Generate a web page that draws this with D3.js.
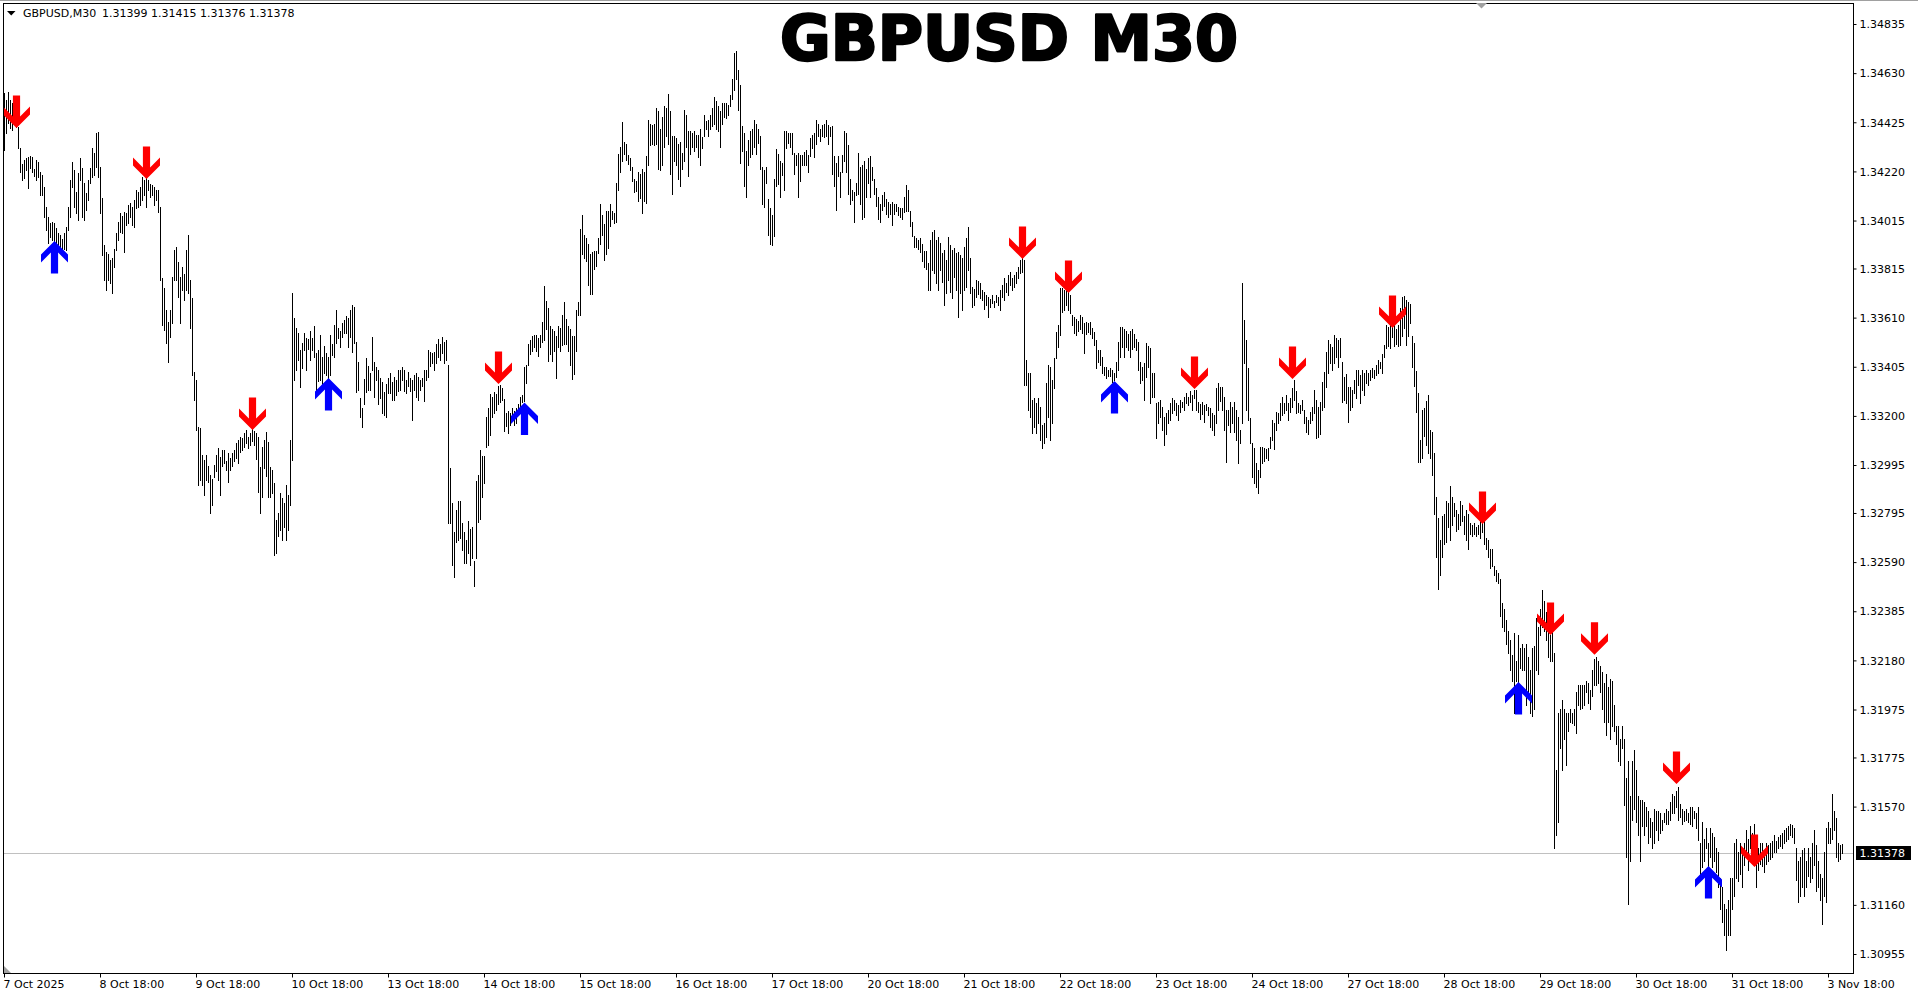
<!DOCTYPE html>
<html>
<head>
<meta charset="utf-8">
<script src="https://cdn.jsdelivr.net/npm/d3@7"></script>
<style>
  body { margin: 0; background: #fff; }
  svg { display: block; }
</style>
</head>
<body>
<div id="chart"></div>
<script>
// chart size
var svgWidth = 1918;
var svgHeight = 996;

// plot frame (MT4 style, price scale on the right)
var frame = { left: 3, top: 3, right: 1853, bottom: 973 };

// header values
var symbol = "GBPUSD,M30";
var lastQuote = [1.31399, 1.31415, 1.31376, 1.31378]; // open high low close of the last bar
var title = "GBPUSD M30";

// price scale labels
var priceTicks = [1.34835, 1.34630, 1.34425, 1.34220, 1.34015, 1.33815, 1.33610, 1.33405, 1.33200,
  1.32995, 1.32795, 1.32590, 1.32385, 1.32180, 1.31975, 1.31775, 1.31570, 1.31160, 1.30955];

// time scale labels, one every 48 bars (one day of M30 bars)
var barsPerDay = 48;
var timeLabels = ["7 Oct 2025", "8 Oct 18:00", "9 Oct 18:00", "10 Oct 18:00", "13 Oct 18:00",
  "14 Oct 18:00", "15 Oct 18:00", "16 Oct 18:00", "17 Oct 18:00", "20 Oct 18:00", "21 Oct 18:00",
  "22 Oct 18:00", "23 Oct 18:00", "24 Oct 18:00", "27 Oct 18:00", "28 Oct 18:00", "29 Oct 18:00",
  "30 Oct 18:00", "31 Oct 18:00", "3 Nov 18:00"];

// M30 bars: [high, low]
var bars = [
[1.34547,1.34309],[1.34518,1.34380],[1.34551,1.34422],[1.34518,1.34401],[1.34505,1.34393],[1.34526,1.34434],[1.34489,1.34405],[1.34405,1.34317],[1.34317,1.34217],[1.34250,1.34184],
[1.34268,1.34193],[1.34276,1.34226],[1.34280,1.34151],[1.34284,1.34234],[1.34280,1.34218],[1.34230,1.34200],[1.34268,1.34184],[1.34259,1.34197],[1.34218,1.34122],[1.34205,1.34122],
[1.34155,1.34030],[1.34072,1.33976],[1.34030,1.33922],[1.34005,1.33946],[1.34009,1.33934],[1.34005,1.33913],[1.33984,1.33905],[1.33963,1.33892],[1.33955,1.33897],[1.33938,1.33888],
[1.33963,1.33897],[1.33988,1.33892],[1.34072,1.33976],[1.34184,1.34030],[1.34259,1.34155],[1.34226,1.34072],[1.34134,1.34047],[1.34213,1.34017],[1.34276,1.34184],[1.34234,1.34030],
[1.34172,1.34017],[1.34130,1.34059],[1.34184,1.34101],[1.34234,1.34172],[1.34317,1.34197],[1.34297,1.34205],[1.34380,1.34238],[1.34384,1.34197],[1.34238,1.34047],[1.34109,1.33871],
[1.33913,1.33767],[1.33884,1.33725],[1.33876,1.33767],[1.33850,1.33755],[1.33859,1.33713],[1.33897,1.33821],[1.33963,1.33892],[1.34009,1.33934],[1.34047,1.33967],[1.34035,1.33963],
[1.34051,1.33884],[1.34047,1.33995],[1.34080,1.34005],[1.34089,1.34030],[1.34072,1.33997],[1.34101,1.33988],[1.34142,1.34068],[1.34134,1.34072],[1.34155,1.34080],[1.34197,1.34101],
[1.34184,1.34122],[1.34193,1.34072],[1.34184,1.34142],[1.34168,1.34114],[1.34163,1.34122],[1.34155,1.34080],[1.34142,1.34101],[1.34142,1.34051],[1.34072,1.33767],[1.33776,1.33579],
[1.33734,1.33558],[1.33642,1.33504],[1.33592,1.33424],[1.33642,1.33529],[1.33780,1.33588],[1.33892,1.33767],[1.33905,1.33767],[1.33842,1.33696],[1.33780,1.33588],[1.33822,1.33725],
[1.33792,1.33684],[1.33892,1.33725],[1.33955,1.33713],[1.33767,1.33567],[1.33692,1.33371],[1.33383,1.33266],[1.33350,1.33141],[1.33154,1.32912],[1.33150,1.32933],[1.33037,1.32912],
[1.33016,1.32870],[1.33037,1.32933],[1.32991,1.32924],[1.32953,1.32795],[1.32937,1.32828],[1.32995,1.32945],[1.33037,1.32970],[1.33066,1.32933],[1.33028,1.32870],[1.33058,1.32991],
[1.33058,1.33003],[1.33012,1.32974],[1.33045,1.32924],[1.33024,1.32974],[1.33045,1.32991],[1.33058,1.33012],[1.33087,1.33024],[1.33099,1.33003],[1.33112,1.33049],[1.33108,1.33058],
[1.33129,1.33070],[1.33141,1.33087],[1.33112,1.33066],[1.33129,1.33078],[1.33150,1.33095],[1.33137,1.33078],[1.33129,1.33020],[1.33112,1.32882],[1.32987,1.32795],[1.33070,1.32862],
[1.33099,1.32982],[1.33133,1.32949],[1.33091,1.32862],[1.32987,1.32862],[1.32974,1.32878],[1.32920,1.32620],[1.32766,1.32628],[1.32795,1.32697],[1.32878,1.32724],[1.32857,1.32682],
[1.32835,1.32738],[1.32912,1.32682],[1.32870,1.32724],[1.33099,1.32828],[1.33713,1.33016],[1.33609,1.33350],[1.33567,1.33391],[1.33546,1.33433],[1.33475,1.33320],[1.33504,1.33400],
[1.33546,1.33475],[1.33525,1.33391],[1.33521,1.33479],[1.33554,1.33433],[1.33525,1.33475],[1.33575,1.33446],[1.33463,1.33308],[1.33475,1.33345],[1.33538,1.33350],[1.33446,1.33308],
[1.33492,1.33379],[1.33463,1.33370],[1.33446,1.33358],[1.33538,1.33370],[1.33500,1.33454],[1.33579,1.33446],[1.33642,1.33504],[1.33567,1.33525],[1.33554,1.33488],[1.33588,1.33529],
[1.33600,1.33546],[1.33617,1.33546],[1.33609,1.33488],[1.33642,1.33529],[1.33663,1.33467],[1.33655,1.33504],[1.33508,1.33299],[1.33425,1.33308],[1.33275,1.33195],[1.33233,1.33154],
[1.33354,1.33250],[1.33442,1.33300],[1.33408,1.33308],[1.33379,1.33308],[1.33529,1.33391],[1.33425,1.33279],[1.33404,1.33350],[1.33391,1.33250],[1.33358,1.33275],[1.33341,1.33212],
[1.33299,1.33204],[1.33333,1.33195],[1.33358,1.33295],[1.33379,1.33295],[1.33341,1.33266],[1.33362,1.33266],[1.33350,1.33287],[1.33391,1.33304],[1.33391,1.33308],[1.33404,1.33350],
[1.33391,1.33304],[1.33350,1.33295],[1.33383,1.33325],[1.33358,1.33304],[1.33350,1.33183],[1.33370,1.33308],[1.33379,1.33279],[1.33362,1.33266],[1.33350,1.33308],[1.33358,1.33325],
[1.33391,1.33262],[1.33391,1.33350],[1.33475,1.33362],[1.33467,1.33408],[1.33463,1.33421],[1.33467,1.33391],[1.33500,1.33421],[1.33521,1.33446],[1.33500,1.33433],[1.33529,1.33463],
[1.33508,1.33421],[1.33517,1.33433],[1.33412,1.32753],[1.32982,1.32753],[1.32836,1.32578],[1.32716,1.32528],[1.32807,1.32675],[1.32845,1.32682],[1.32845,1.32690],[1.32753,1.32640],
[1.32716,1.32586],[1.32682,1.32586],[1.32761,1.32628],[1.32728,1.32578],[1.32737,1.32607],[1.32595,1.32491],[1.32928,1.32607],[1.32954,1.32758],[1.33058,1.32770],[1.33033,1.32862],
[1.33033,1.32920],[1.33195,1.33070],[1.33233,1.33078],[1.33291,1.33120],[1.33279,1.33195],[1.33300,1.33212],[1.33291,1.33225],[1.33325,1.33250],[1.33329,1.33258],[1.33316,1.33266],
[1.33270,1.33137],[1.33212,1.33158],[1.33221,1.33129],[1.33212,1.33162],[1.33233,1.33187],[1.33221,1.33162],[1.33233,1.33170],[1.33250,1.33204],[1.33279,1.33221],[1.33287,1.33258],
[1.33404,1.33262],[1.33412,1.33337],[1.33500,1.33412],[1.33517,1.33458],[1.33534,1.33471],[1.33538,1.33488],[1.33538,1.33471],[1.33525,1.33450],[1.33538,1.33488],[1.33592,1.33508],
[1.33742,1.33517],[1.33680,1.33563],[1.33650,1.33429],[1.33575,1.33458],[1.33563,1.33429],[1.33554,1.33471],[1.33534,1.33358],[1.33575,1.33488],[1.33567,1.33471],[1.33621,1.33496],
[1.33676,1.33500],[1.33605,1.33500],[1.33575,1.33471],[1.33563,1.33412],[1.33534,1.33354],[1.33534,1.33375],[1.33642,1.33471],[1.33676,1.33621],[1.33980,1.33621],[1.34038,1.33876],
[1.33955,1.33859],[1.33942,1.33846],[1.33917,1.33746],[1.33876,1.33709],[1.33884,1.33709],[1.33888,1.33813],[1.33888,1.33825],[1.33942,1.33880],[1.34084,1.33917],[1.34038,1.33955],
[1.34001,1.33850],[1.34055,1.33876],[1.34055,1.33900],[1.34084,1.33992],[1.34055,1.34020],[1.34047,1.34005],[1.34172,1.34009],[1.34292,1.34142],[1.34322,1.34217],[1.34426,1.34263],
[1.34343,1.34293],[1.34334,1.34268],[1.34288,1.34250],[1.34276,1.34226],[1.34238,1.34180],[1.34188,1.34134],[1.34180,1.34140],[1.34218,1.34097],[1.34209,1.34109],[1.34230,1.34047],
[1.34218,1.34097],[1.34284,1.34088],[1.34434,1.34247],[1.34418,1.34330],[1.34414,1.34334],[1.34418,1.34330],[1.34484,1.34334],[1.34472,1.34230],[1.34397,1.34226],[1.34447,1.34247],
[1.34493,1.34322],[1.34484,1.34368],[1.34543,1.34334],[1.34472,1.34209],[1.34368,1.34126],[1.34368,1.34263],[1.34359,1.34247],[1.34334,1.34188],[1.34343,1.34159],[1.34297,1.34230],
[1.34476,1.34263],[1.34455,1.34322],[1.34389,1.34201],[1.34389,1.34293],[1.34380,1.34322],[1.34389,1.34305],[1.34372,1.34322],[1.34372,1.34280],[1.34397,1.34247],[1.34363,1.34318],
[1.34455,1.34368],[1.34430,1.34397],[1.34434,1.34368],[1.34455,1.34397],[1.34484,1.34409],[1.34530,1.34418],[1.34514,1.34397],[1.34493,1.34389],[1.34472,1.34322],[1.34505,1.34418],
[1.34505,1.34447],[1.34505,1.34443],[1.34497,1.34455],[1.34539,1.34493],[1.34606,1.34522],[1.34714,1.34560],[1.34722,1.34606],[1.34643,1.34476],[1.34581,1.34255],[1.34409,1.34305],
[1.34380,1.34159],[1.34305,1.34113],[1.34351,1.34247],[1.34389,1.34280],[1.34397,1.34293],[1.34434,1.34322],[1.34418,1.34293],[1.34397,1.34338],[1.34368,1.34230],[1.34238,1.34084],
[1.34226,1.34072],[1.34238,1.34172],[1.34105,1.33955],[1.34068,1.33917],[1.34038,1.33913],[1.34188,1.33950],[1.34313,1.34159],[1.34292,1.34168],[1.34263,1.34113],[1.34255,1.34205],
[1.34389,1.34142],[1.34389,1.34318],[1.34380,1.34338],[1.34380,1.34322],[1.34380,1.34293],[1.34297,1.34209],[1.34288,1.34247],[1.34297,1.34113],[1.34288,1.34180],[1.34288,1.34247],
[1.34301,1.34247],[1.34309,1.34247],[1.34288,1.34218],[1.34359,1.34284],[1.34372,1.34318],[1.34380,1.34280],[1.34434,1.34334],[1.34418,1.34368],[1.34397,1.34347],[1.34414,1.34368],
[1.34418,1.34363],[1.34434,1.34368],[1.34414,1.34334],[1.34405,1.34368],[1.34409,1.34209],[1.34284,1.34159],[1.34255,1.34059],[1.34284,1.34201],[1.34218,1.34113],[1.34288,1.34218],
[1.34389,1.34263],[1.34380,1.34218],[1.34330,1.34126],[1.34188,1.34084],[1.34142,1.34101],[1.34134,1.34009],[1.34172,1.34122],[1.34297,1.34126],[1.34238,1.34084],[1.34247,1.34022],
[1.34263,1.34030],[1.34230,1.34113],[1.34276,1.34172],[1.34284,1.34113],[1.34238,1.34184],[1.34188,1.34126],[1.34151,1.34076],[1.34113,1.34022],[1.34084,1.34009],[1.34122,1.34059],
[1.34134,1.34076],[1.34105,1.34043],[1.34093,1.34030],[1.34084,1.34043],[1.34093,1.33997],[1.34084,1.34043],[1.34084,1.34055],[1.34072,1.34038],[1.34068,1.34030],[1.34068,1.34022],
[1.34113,1.34051],[1.34163,1.34055],[1.34142,1.34055],[1.34055,1.33992],[1.34009,1.33950],[1.33950,1.33905],[1.33942,1.33905],[1.33934,1.33897],[1.33942,1.33884],[1.33917,1.33846],
[1.33888,1.33821],[1.33888,1.33813],[1.33838,1.33725],[1.33934,1.33725],[1.33967,1.33809],[1.33976,1.33796],[1.33934,1.33755],[1.33946,1.33725],[1.33921,1.33809],[1.33880,1.33759],
[1.33892,1.33663],[1.33850,1.33713],[1.33946,1.33767],[1.33913,1.33717],[1.33892,1.33692],[1.33901,1.33780],[1.33880,1.33725],[1.33884,1.33613],[1.33871,1.33713],[1.33859,1.33642],
[1.33905,1.33725],[1.33942,1.33738],[1.33988,1.33809],[1.33859,1.33713],[1.33738,1.33655],[1.33730,1.33663],[1.33767,1.33696],[1.33763,1.33709],[1.33755,1.33692],[1.33725,1.33684],
[1.33717,1.33646],[1.33705,1.33663],[1.33696,1.33613],[1.33688,1.33655],[1.33705,1.33671],[1.33680,1.33655],[1.33705,1.33676],[1.33696,1.33663],[1.33725,1.33642],[1.33746,1.33696],
[1.33776,1.33684],[1.33755,1.33717],[1.33788,1.33705],[1.33800,1.33746],[1.33776,1.33725],[1.33788,1.33738],[1.33800,1.33755],[1.33821,1.33776],[1.33850,1.33796],[1.33859,1.33800],
[1.33850,1.33329],[1.33433,1.33329],[1.33379,1.33225],[1.33379,1.33195],[1.33266,1.33129],[1.33275,1.33154],[1.33254,1.33129],[1.33275,1.33170],[1.33237,1.33099],[1.33162,1.33066],
[1.33170,1.33087],[1.33337,1.33112],[1.33412,1.33195],[1.33404,1.33099],[1.33350,1.33170],[1.33442,1.33316],[1.33550,1.33442],[1.33579,1.33488],[1.33734,1.33538],[1.33734,1.33634],
[1.33725,1.33642],[1.33725,1.33663],[1.33734,1.33642],[1.33705,1.33630],[1.33621,1.33579],[1.33613,1.33546],[1.33605,1.33538],[1.33596,1.33554],[1.33621,1.33563],[1.33613,1.33546],
[1.33588,1.33463],[1.33592,1.33542],[1.33588,1.33550],[1.33592,1.33542],[1.33567,1.33525],[1.33550,1.33496],[1.33517,1.33400],[1.33475,1.33425],[1.33475,1.33412],[1.33446,1.33379],
[1.33404,1.33370],[1.33404,1.33358],[1.33391,1.33366],[1.33400,1.33366],[1.33391,1.33341],[1.33379,1.33350],[1.33425,1.33362],[1.33508,1.33391],[1.33571,1.33446],[1.33571,1.33488],
[1.33563,1.33446],[1.33554,1.33488],[1.33542,1.33475],[1.33554,1.33446],[1.33563,1.33479],[1.33542,1.33488],[1.33521,1.33475],[1.33508,1.33391],[1.33425,1.33337],[1.33404,1.33350],
[1.33421,1.33266],[1.33504,1.33362],[1.33492,1.33404],[1.33483,1.33254],[1.33379,1.33279],[1.33379,1.33279],[1.33254,1.33108],[1.33258,1.33170],[1.33266,1.33195],[1.33237,1.33141],
[1.33195,1.33078],[1.33212,1.33124],[1.33225,1.33170],[1.33254,1.33183],[1.33275,1.33212],[1.33266,1.33225],[1.33254,1.33204],[1.33245,1.33183],[1.33266,1.33216],[1.33258,1.33237],
[1.33279,1.33225],[1.33295,1.33254],[1.33279,1.33245],[1.33304,1.33258],[1.33287,1.33225],[1.33308,1.33275],[1.33308,1.33225],[1.33258,1.33216],[1.33250,1.33187],[1.33258,1.33208],
[1.33245,1.33174],[1.33250,1.33225],[1.33237,1.33204],[1.33233,1.33154],[1.33212,1.33141],[1.33204,1.33120],[1.33316,1.33170],[1.33337,1.33225],[1.33320,1.33262],[1.33320,1.33225],
[1.33279,1.33141],[1.33225,1.33008],[1.33225,1.33162],[1.33258,1.33133],[1.33237,1.33170],[1.33258,1.33133],[1.33225,1.33099],[1.33195,1.33003],[1.33141,1.33087],[1.33755,1.33170],
[1.33600,1.33421],[1.33517,1.33225],[1.33400,1.33183],[1.33191,1.33087],[1.33087,1.32945],[1.33066,1.32920],[1.33003,1.32903],[1.32974,1.32878],[1.33070,1.32945],[1.33070,1.33003],
[1.33066,1.33012],[1.33062,1.33024],[1.33066,1.33016],[1.33112,1.33066],[1.33183,1.33099],[1.33170,1.33062],[1.33216,1.33141],[1.33212,1.33170],[1.33254,1.33183],[1.33279,1.33204],
[1.33254,1.33212],[1.33287,1.33225],[1.33254,1.33183],[1.33275,1.33216],[1.33316,1.33237],[1.33350,1.33266],[1.33304,1.33212],[1.33254,1.33216],[1.33245,1.33212],[1.33266,1.33225],
[1.33225,1.33170],[1.33195,1.33133],[1.33183,1.33124],[1.33216,1.33170],[1.33237,1.33183],[1.33308,1.33212],[1.33266,1.33108],[1.33237,1.33112],[1.33258,1.33124],[1.33341,1.33225],
[1.33383,1.33237],[1.33467,1.33320],[1.33517,1.33379],[1.33500,1.33421],[1.33488,1.33391],[1.33538,1.33421],[1.33525,1.33446],[1.33517,1.33404],[1.33525,1.33446],[1.33425,1.33258],
[1.33362,1.33266],[1.33375,1.33254],[1.33320,1.33174],[1.33320,1.33225],[1.33308,1.33237],[1.33350,1.33295],[1.33391,1.33275],[1.33391,1.33329],[1.33370,1.33254],[1.33391,1.33308],
[1.33379,1.33287],[1.33391,1.33337],[1.33379,1.33329],[1.33391,1.33350],[1.33400,1.33362],[1.33391,1.33358],[1.33412,1.33371],[1.33433,1.33379],[1.33425,1.33400],[1.33458,1.33379],
[1.33496,1.33446],[1.33579,1.33483],[1.33571,1.33492],[1.33579,1.33483],[1.33571,1.33529],[1.33579,1.33492],[1.33563,1.33500],[1.33579,1.33492],[1.33650,1.33496],[1.33696,1.33534],
[1.33700,1.33567],[1.33684,1.33496],[1.33676,1.33534],[1.33667,1.33588],[1.33534,1.33404],[1.33504,1.33325],[1.33387,1.33216],[1.33295,1.33008],[1.33099,1.33008],[1.33225,1.33024],
[1.33233,1.33116],[1.33262,1.33078],[1.33287,1.33045],[1.33141,1.33024],[1.33133,1.32953],[1.33045,1.32791],[1.32862,1.32611],[1.32774,1.32478],[1.32682,1.32536],[1.32782,1.32611],
[1.32791,1.32666],[1.32845,1.32674],[1.32837,1.32737],[1.32908,1.32682],[1.32862,1.32745],[1.32837,1.32783],[1.32807,1.32720],[1.32791,1.32728],[1.32845,1.32745],[1.32828,1.32762],
[1.32782,1.32707],[1.32807,1.32682],[1.32791,1.32645],[1.32753,1.32707],[1.32745,1.32699],[1.32753,1.32707],[1.32737,1.32699],[1.32745,1.32707],[1.32774,1.32691],[1.32753,1.32716],
[1.32762,1.32666],[1.32691,1.32645],[1.32682,1.32611],[1.32645,1.32565],[1.32645,1.32574],[1.32574,1.32536],[1.32557,1.32511],[1.32545,1.32503],[1.32520,1.32365],[1.32420,1.32319],
[1.32394,1.32302],[1.32348,1.32248],[1.32302,1.32211],[1.32265,1.32140],[1.32202,1.32094],[1.32294,1.31961],[1.32177,1.32094],[1.32286,1.32077],[1.32232,1.32148],[1.32248,1.32140],
[1.32232,1.32140],[1.32248,1.31994],[1.32194,1.32031],[1.32140,1.31961],[1.32232,1.31948],[1.32240,1.31977],[1.32357,1.32140],[1.32319,1.32123],[1.32394,1.32286],[1.32474,1.32319],
[1.32428,1.32302],[1.32382,1.32265],[1.32340,1.32194],[1.32286,1.32177],[1.32319,1.32177],[1.32211,1.31397],[1.31723,1.31452],[1.31961,1.31506],[1.31977,1.31815],[1.32015,1.31723],
[1.31977,1.31852],[1.31961,1.31744],[1.31961,1.31886],[1.31977,1.31923],[1.31961,1.31919],[1.31977,1.31911],[1.32048,1.31877],[1.32077,1.31994],[1.32077,1.31977],[1.32077,1.31981],
[1.32077,1.31994],[1.32094,1.32048],[1.32085,1.32002],[1.32056,1.31977],[1.32140,1.32031],[1.32185,1.32077],[1.32194,1.32077],[1.32177,1.32085],[1.32157,1.32048],[1.32131,1.31977],
[1.32085,1.31923],[1.32123,1.31869],[1.32069,1.31923],[1.32102,1.31852],[1.32094,1.31906],[1.31994,1.31886],[1.31906,1.31831],[1.31906,1.31760],[1.31852,1.31744],[1.31906,1.31815],
[1.31852,1.31577],[1.31689,1.31360],[1.31760,1.31164],[1.31614,1.31343],[1.31760,1.31514],[1.31806,1.31560],[1.31723,1.31506],[1.31614,1.31452],[1.31598,1.31343],[1.31598,1.31489],
[1.31589,1.31452],[1.31568,1.31489],[1.31552,1.31418],[1.31523,1.31443],[1.31506,1.31397],[1.31560,1.31418],[1.31552,1.31472],[1.31552,1.31431],[1.31543,1.31460],[1.31514,1.31472],
[1.31543,1.31506],[1.31560,1.31497],[1.31552,1.31497],[1.31589,1.31514],[1.31623,1.31543],[1.31614,1.31543],[1.31635,1.31568],[1.31652,1.31514],[1.31581,1.31527],[1.31560,1.31497],
[1.31552,1.31510],[1.31560,1.31514],[1.31543,1.31506],[1.31568,1.31497],[1.31568,1.31489],[1.31552,1.31523],[1.31543,1.31481],[1.31568,1.31431],[1.31418,1.31271],[1.31506,1.31318],
[1.31435,1.31343],[1.31481,1.31397],[1.31418,1.31288],[1.31481,1.31360],[1.31460,1.31318],[1.31443,1.31343],[1.31397,1.31297],[1.31380,1.31234],[1.31271,1.31142],[1.31234,1.31088],
[1.31164,1.31035],[1.31142,1.30972],[1.31181,1.31035],[1.31271,1.31035],[1.31271,1.31142],[1.31418,1.31197],[1.31435,1.31271],[1.31380,1.31260],[1.31418,1.31288],[1.31380,1.31234],
[1.31418,1.31326],[1.31472,1.31360],[1.31435,1.31306],[1.31489,1.31397],[1.31460,1.31372],[1.31497,1.31351],[1.31418,1.31234],[1.31397,1.31306],[1.31418,1.31330],[1.31418,1.31322],
[1.31389,1.31297],[1.31418,1.31330],[1.31410,1.31343],[1.31418,1.31351],[1.31427,1.31360],[1.31452,1.31380],[1.31427,1.31380],[1.31443,1.31397],[1.31452,1.31405],[1.31460,1.31397],
[1.31472,1.31418],[1.31481,1.31427],[1.31489,1.31435],[1.31497,1.31452],[1.31493,1.31443],[1.31481,1.31418],[1.31397,1.31264],[1.31343,1.31172],[1.31360,1.31197],[1.31389,1.31234],
[1.31397,1.31197],[1.31343,1.31234],[1.31397,1.31280],[1.31360,1.31255],[1.31418,1.31271],[1.31472,1.31326],[1.31410,1.31218],[1.31343,1.31234],[1.31288,1.31181],[1.31271,1.31080],
[1.31380,1.31197],[1.31481,1.31172],[1.31506,1.31418],[1.31481,1.31418],[1.31623,1.31435],[1.31552,1.31472],[1.31523,1.31360],[1.31418,1.31343],[1.31410,1.31351],[1.31415,1.31376]
];

// indicator signals: [bar index, price of the arrow tip]
var sellSignals = [[6, 1.34401], [71, 1.34188], [124, 1.33141], [247, 1.33333], [509, 1.33855],
  [532, 1.33713], [595, 1.33312], [644, 1.33354], [694, 1.33567], [739, 1.32749], [773, 1.32286],
  [795, 1.32204], [836, 1.31664], [875, 1.31318]];
var buySignals = [[25, 1.33930], [162, 1.33358], [260, 1.33256], [555, 1.33346], [757, 1.32090],
  [852, 1.31322]];

var font = "DejaVu Sans";

var svg = d3.select("#chart")
  .append("svg")
  .attr("width", svgWidth)
  .attr("height", svgHeight)
  .style("background", "#fff");

// scales
var x = d3.scaleLinear()
  .domain([0, bars.length - 1])
  .range([4, 4 + 2 * (bars.length - 1)]);

var y = d3.scaleLinear()
  .domain([1.30955, 1.34835])
  .range([954, 24]);

// window edge
svg.append("line")
  .attr("x1", 0).attr("x2", svgWidth)
  .attr("y1", 0.5).attr("y2", 0.5)
  .attr("stroke", "#a0a0a0");

// current price line (behind the bars)
var lastClose = lastQuote[3];
svg.append("line")
  .attr("x1", frame.left).attr("x2", frame.right)
  .attr("y1", Math.round(y(lastClose)) + 0.5).attr("y2", Math.round(y(lastClose)) + 0.5)
  .attr("stroke", "#c0c0c0");

// bars (high-low lines)
svg.append("g")
  .attr("shape-rendering", "crispEdges")
  .selectAll("line")
  .data(bars)
  .enter()
  .append("line")
  .attr("x1", (d, i) => Math.round(x(i)) + 0.5)
  .attr("x2", (d, i) => Math.round(x(i)) + 0.5)
  .attr("y1", d => Math.round(y(d[0])))
  .attr("y2", d => Math.round(y(d[1])) + 1)
  .attr("stroke", "#000")
  .attr("stroke-width", 1);

// arrows
var downArrow = "M0,0 L-13.5,-13.5 L-13.5,-21.5 L-3.6,-11.6 L-3.6,-32.5 L3.6,-32.5 L3.6,-11.6 L13.5,-21.5 L13.5,-13.5 Z";
var upArrow = "M0,0 L-13.5,13.5 L-13.5,21.5 L-3.6,11.6 L-3.6,32.5 L3.6,32.5 L3.6,11.6 L13.5,21.5 L13.5,13.5 Z";

svg.append("g").selectAll("path")
  .data(sellSignals)
  .enter()
  .append("path")
  .attr("d", downArrow)
  .attr("transform", d => `translate(${Math.round(x(d[0])) + 0.5}, ${y(d[1])})`)
  .attr("fill", "#ff0000");

svg.append("g").selectAll("path")
  .data(buySignals)
  .enter()
  .append("path")
  .attr("d", upArrow)
  .attr("transform", d => `translate(${Math.round(x(d[0])) + 0.5}, ${y(d[1])})`)
  .attr("fill", "#0000ff");

// frame
svg.append("rect")
  .attr("x", frame.left + 0.5).attr("y", frame.top + 0.5)
  .attr("width", frame.right - frame.left).attr("height", frame.bottom - frame.top)
  .attr("fill", "none")
  .attr("stroke", "#000")
  .attr("shape-rendering", "crispEdges");

// price axis
var yAxis = d3.axisRight(y)
  .tickValues(priceTicks)
  .tickSize(3)
  .tickSizeOuter(0)
  .tickFormat(d3.format(".5f"));

var gy = svg.append("g")
  .attr("transform", `translate(${frame.right + 0.5}, 0)`)
  .call(yAxis);
gy.select(".domain").remove();
gy.attr("font-family", font).attr("font-size", 11);
gy.selectAll("text").attr("fill", "#000").attr("dy", "0.34em");

// time axis
var xAxis = d3.axisBottom(x)
  .tickValues(d3.range(0, bars.length, barsPerDay))
  .tickSize(4)
  .tickSizeOuter(0)
  .tickFormat((d, i) => timeLabels[i]);

var gx = svg.append("g")
  .attr("transform", `translate(0, ${frame.bottom + 0.5})`)
  .call(xAxis);
gx.select(".domain").remove();
gx.attr("font-family", font).attr("font-size", 11);
gx.selectAll("text").attr("text-anchor", "start").attr("x", -1).attr("fill", "#000");

// current price label
var yc = Math.round(y(lastClose));
svg.append("rect")
  .attr("x", frame.right + 3).attr("y", yc - 7)
  .attr("width", 55).attr("height", 14)
  .attr("fill", "#000");
svg.append("text")
  .attr("x", frame.right + 6.5).attr("y", yc + 4)
  .attr("font-family", font).attr("font-size", 11)
  .attr("fill", "#fff")
  .text(d3.format(".5f")(lastClose));

// small markers of the MT4 window
svg.append("path")
  .attr("d", "M1476,3 L1487,3 L1481.5,8.5 Z")
  .attr("fill", "#a0a0a0");
svg.append("path")
  .attr("d", "M4,966 L4,973 L11,973 Z")
  .attr("fill", "#a0a0a0");

// header
svg.append("path")
  .attr("d", "M7,11 L15.5,11 L11.25,15.5 Z")
  .attr("fill", "#000");
svg.append("text")
  .attr("x", 23).attr("y", 17)
  .attr("font-family", font).attr("font-size", 11)
  .attr("fill", "#000")
  .text(symbol);
svg.append("text")
  .attr("x", 102).attr("y", 17)
  .attr("font-family", font).attr("font-size", 11)
  .attr("fill", "#000")
  .text(lastQuote.map(d3.format(".5f")).join(" "));

// big title
svg.append("text")
  .attr("x", 1009).attr("y", 60)
  .attr("text-anchor", "middle")
  .attr("font-family", font)
  .attr("font-weight", "bold")
  .attr("font-size", 62)
  .attr("textLength", 458)
  .attr("lengthAdjust", "spacingAndGlyphs")
  .attr("fill", "#000")
  .attr("stroke", "#000")
  .attr("stroke-width", 2.4)
  .attr("stroke-linejoin", "round")
  .text(title);
</script>
</body>
</html>
